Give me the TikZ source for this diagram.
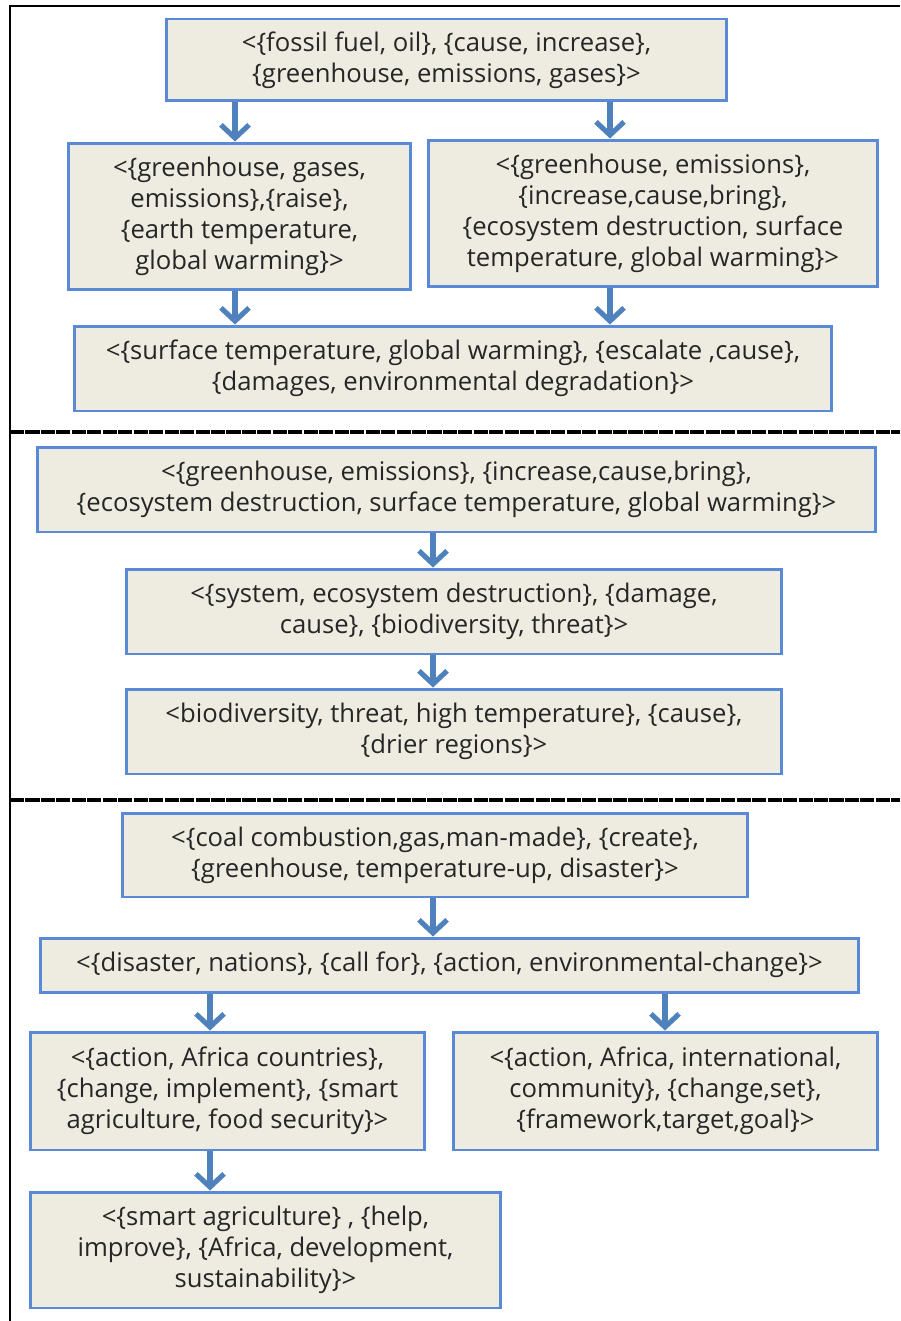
\documentclass[tikz,border=0pt]{standalone}
\usepackage{fontspec}
\setmainfont{Open Sans}
\usetikzlibrary{arrows.meta}
\definecolor{boxfill}{HTML}{EEECE1}
\definecolor{boxline}{HTML}{5A8AD6}
\definecolor{flowblue}{HTML}{4F81BD}
\definecolor{textgray}{HTML}{262626}
\tikzset{
  box/.style={draw=boxline, fill=boxfill, line width=1.7pt, align=center, inner sep=0pt,
    text=textgray, font=\fontsize{14.6}{17.6}\selectfont},
  flow/.style={draw=flowblue, line width=2.9pt, -{Straight Barb[length=7.5pt,width=16pt]}},
  sepline/.style={line width=2.8pt, dash pattern=on 8pt off 0.8pt},
}
\begin{document}
\begin{tikzpicture}[x=0.02cm,y=-0.02cm]
\useasboundingbox (0,0) rectangle (900,1321);
% frame
\draw[line width=1.2pt] (10,1321) -- (10,6) -- (900,6);
\draw[sepline] (10,432) -- (900,432);
\draw[sepline] (10,800) -- (900,800);

% columns for the arrows
\coordinate (colA) at (235,0);
\coordinate (colB) at (610,0);
\coordinate (colC) at (433,0);
\coordinate (colD) at (210,0);
\coordinate (colE) at (665,0);

% first part
\node[box, minimum width=11.22cm, minimum height=1.64cm] (fossil) at (446.5,60)
  {<\{fossil fuel, oil\}, \{cause, increase\},\\ \{greenhouse, emissions, gases\}>};
\node[box, minimum width=6.86cm, minimum height=2.94cm] (raise) at (239.5,216.5)
  {<\{greenhouse, gases,\\ emissions\},\{raise\},\\ \{earth temperature,\\ global warming\}>};
\node[box, minimum width=9cm, minimum height=2.94cm] (bring) at (653,213.5)
  {<\{greenhouse, emissions\},\\ \{increase,cause,bring\},\\ \{ecosystem destruction, surface\\ temperature, global warming\}>};
\node[box, minimum width=15.16cm, minimum height=1.7cm] (escalate) at (453,368.5)
  {<\{surface temperature, global warming\}, \{escalate ,cause\},\\ \{damages, environmental degradation\}>};

\draw[flow] (fossil.south -| colA) -- (raise.north -| colA);
\draw[flow] (fossil.south -| colB) -- (bring.north -| colB);
\draw[flow] (raise.south -| colA) -- (escalate.north -| colA);
\draw[flow] (bring.south -| colB) -- (escalate.north -| colB);

% second part
\node[box, minimum width=16.78cm, minimum height=1.7cm] (emis) at (456.5,489.5)
  {<\{greenhouse, emissions\}, \{increase,cause,bring\},\\ \{ecosystem destruction, surface temperature, global warming\}>};
\node[box, minimum width=13.12cm, minimum height=1.7cm] (system) at (454,611.5)
  {<\{system, ecosystem destruction\}, \{damage,\\ cause\}, \{biodiversity, threat\}>};
\node[box, minimum width=13.12cm, minimum height=1.7cm] (drier) at (454,731.5)
  {<biodiversity, threat, high temperature\}, \{cause\},\\ \{drier regions\}>};

\draw[flow] (emis.south -| colC) -- (system.north -| colC);
\draw[flow] (system.south -| colC) -- (drier.north -| colC);

% third part
\node[box, minimum width=12.52cm, minimum height=1.68cm] (coal) at (435,855)
  {<\{coal combustion,gas,man-made\}, \{create\},\\ \{greenhouse, temperature-up, disaster\}>};
\node[box, minimum width=16.38cm, minimum height=1.08cm] (nations) at (449.5,965)
  {<\{disaster, nations\}, \{call for\}, \{action, environmental-change\}>};
\node[box, minimum width=7.9cm, minimum height=2.36cm] (smart) at (227.5,1091)
  {<\{action, Africa countries\},\\ \{change, implement\}, \{smart\\ agriculture, food security\}>};
\node[box, minimum width=8.5cm, minimum height=2.36cm] (frame) at (665.5,1091)
  {<\{action, Africa, international,\\ community\}, \{change,set\},\\ \{framework,target,goal\}>};
\node[box, minimum width=9.42cm, minimum height=2.32cm] (sustain) at (265.5,1250)
  {<\{smart agriculture\} , \{help,\\ improve\}, \{Africa, development,\\ sustainability\}>};

\draw[flow] (coal.south -| colC) -- (nations.north -| colC);
\draw[flow] (nations.south -| colD) -- (smart.north -| colD);
\draw[flow] (nations.south -| colE) -- (frame.north -| colE);
\draw[flow] (smart.south -| colD) -- (sustain.north -| colD);
\end{tikzpicture}
\end{document}
